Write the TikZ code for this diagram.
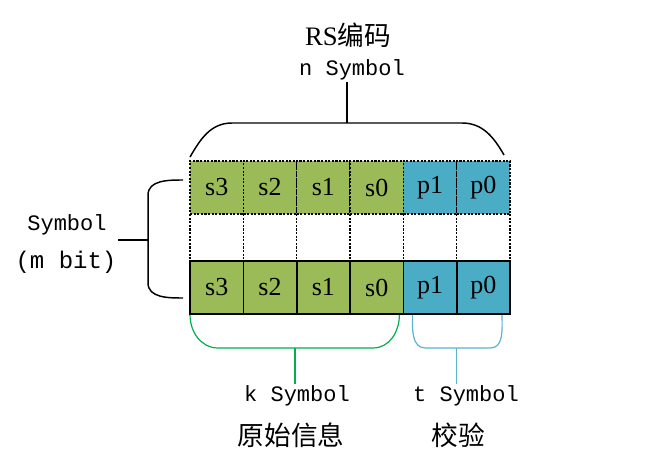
\documentclass[tikz,border=0pt]{standalone}
\usepackage{fontspec}
\setmainfont{Liberation Serif}
\setmonofont{Liberation Mono}
\newfontfamily\cjk{Noto Sans CJK SC}
\usepackage{xcolor}
\usetikzlibrary{positioning}
\definecolor{infogreen}{HTML}{9BBB59}
\definecolor{checkblue}{HTML}{4BACC6}
\definecolor{bracegreen}{HTML}{00B050}
\definecolor{braceblue}{HTML}{5BB4CC}

\begin{document}
\begin{tikzpicture}[x=0.75pt,y=-0.75pt,
    cell/.style={minimum width=40pt,minimum height=39.75pt,inner sep=0pt,outer sep=0pt,font=\fontsize{19.5}{20}\selectfont},
    dotcell/.style={cell,draw,line width=1pt,dash pattern=on 1.6pt off 1.1pt},
    solidcell/.style={cell,draw,line width=1.2pt},
    brace/.style={line width=1.1pt},
    lbl/.style={font=\ttfamily\fontsize{16.5}{18}\selectfont,inner sep=1pt},
    cn/.style={font=\cjk\fontsize{20}{22}\selectfont,inner sep=1pt}]
    \useasboundingbox (0,0) rectangle (656,456);

    % top row, dotted
    \node[dotcell,fill=infogreen] (t1) at (216.7,187.5) {s3};
    \node[dotcell,fill=infogreen,right=0pt of t1] (t2) {s2};
    \node[dotcell,fill=infogreen,right=0pt of t2] (t3) {s1};
    \node[dotcell,fill=infogreen,right=0pt of t3] (t4) {s0};
    \node[dotcell,fill=checkblue,right=0pt of t4] (t5) {p1};
    \node[dotcell,fill=checkblue,right=0pt of t5] (t6) {p0};

    % bottom row, solid
    \node[solidcell,fill=infogreen] (b1) at (216.7,287.5) {s3};
    \node[solidcell,fill=infogreen,right=0pt of b1] (b2) {s2};
    \node[solidcell,fill=infogreen,right=0pt of b2] (b3) {s1};
    \node[solidcell,fill=infogreen,right=0pt of b3] (b4) {s0};
    \node[solidcell,fill=checkblue,right=0pt of b4] (b5) {p1};
    \node[solidcell,fill=checkblue,right=0pt of b5] (b6) {p0};

    % dotted rows in between
    \foreach \i in {1,...,6}
        \draw[line width=1pt,dash pattern=on 1.6pt off 1.1pt] (t\i.south west) -- (b\i.north west);
    \draw[line width=1pt,dash pattern=on 1.6pt off 1.1pt] (t6.south east) -- (b6.north east);

    % labels
    \node[cn] (rs) at (348,35) {{\rmfamily RS}编码};
    \node[lbl] (nsym) at (352,70) {n Symbol};
    \node[lbl] (msym) at (67,225) {Symbol};
    \node[lbl,font=\ttfamily\fontsize{18}{20}\selectfont] (mbit) at (66,262) {(m bit)};
    \node[lbl] (ksym) at (297,396) {k Symbol};
    \node[cn] (kinfo) at (291,435) {原始信息};
    \node[lbl] (tsym) at (466,396) {t Symbol};
    \node[cn] (tchk) at (458,435) {校验};

    % braces
    \draw[brace] ([shift={(0,-4)}]t1.north west) to[out=60,in=180] ++(42,-34)
        -- ++(115,0) coordinate (ntip) -- ++(115,0) to[out=0,in=120] ([shift={(-6,-6)}]t6.north east);
    \draw[brace] (ntip) -- (ntip |- nsym.south);

    \draw[brace] ([shift={(-7,19)}]t1.north west) to[out=180,in=90] ++(-35,15)
        -- ++(0,45) coordinate (mtip) -- ++(0,43) to[out=-90,in=180] ([shift={(-7,-16)}]b1.south west);
    \draw[brace] (mtip) -- (mtip -| mbit.east);

    \draw[bracegreen,line width=0.9pt] ([shift={(0,1)}]b1.south west) to[out=-90,in=180] ++(28,33)
        -- ++(77,0) coordinate (ktip) -- ++(78,0) to[out=0,in=-90] ([shift={(-4,1)}]b4.south east);
    \draw[bracegreen,line width=0.9pt] (ktip) -- (ktip |- ksym.north);

    \draw[braceblue,line width=0.9pt] ([shift={(9,1)}]b5.south west) to[out=-90,in=180] ++(13,33)
        -- ++(31,0) coordinate (ttip) -- ++(34,0) to[out=0,in=-90] ([shift={(-8,1)}]b6.south east);
    \draw[braceblue,line width=0.9pt] (ttip) -- (ttip |- tsym.north);
\end{tikzpicture}
\end{document}
